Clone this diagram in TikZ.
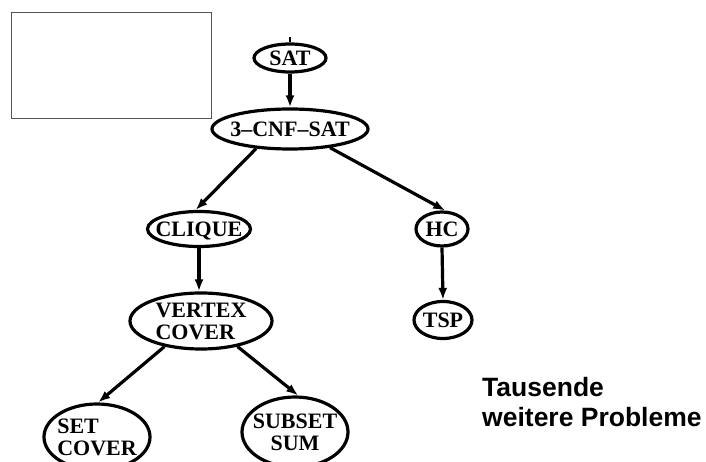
\documentclass[tikz,border=0pt]{standalone}
\usepackage{fontspec}
\setmainfont{Liberation Serif}
\newfontfamily\labelfont{Liberation Sans}
\usetikzlibrary{arrows.meta,shapes.geometric}
\definecolor{ink}{HTML}{000000}
\definecolor{frame}{HTML}{555555}
\newcommand{\probc}[1]{\makebox[0pt]{\raisebox{-8.3pt}[0pt][0pt]{\begin{tabular}{@{}c@{}}#1\end{tabular}}}}
\newcommand{\probl}[1]{\makebox[0pt]{\raisebox{-8.3pt}[0pt][0pt]{\begin{tabular}{@{}l@{}}#1\end{tabular}}}}

\begin{document}
\begin{tikzpicture}[x=1pt,y=-1pt,>=Latex,
  prob/.style={ellipse,draw=ink,line width=3.2pt,inner sep=0pt,
    font=\bfseries\fontsize{22}{22}\selectfont},
  reduc/.style={draw=ink,line width=3.2pt,-{Latex[length=12pt,width=9pt]}}]
\useasboundingbox (0,0) rectangle (706,462);
\draw[frame,line width=0.8pt] (11,12) rectangle (211,118);
% problem nodes
\node[prob,minimum width=72,minimum height=28] (sat) at (290,58) {\probc{SAT}};
\node[prob,minimum width=156,minimum height=40] (cnf) at (290,129) {\probc{3--CNF--SAT}};
\node[prob,minimum width=103,minimum height=35] (clique) at (199,229) {\probc{CLIQUE}};
\node[prob,minimum width=52,minimum height=34] (hc) at (442,229) {\probc{HC}};
\node[prob,minimum width=142,minimum height=56] (vc) at (201,321) {\probl{VERTEX\\COVER}};
\node[prob,minimum width=58,minimum height=37] (tsp) at (443,320) {\probc{TSP}};
\node[prob,minimum width=106,minimum height=66] (setc) at (97,437) {\probl{SET\\COVER}};
\node[prob,minimum width=106,minimum height=70] (subset) at (295,432) {\probc{SUBSET\\SUM}};
\node[anchor=north west,inner sep=0pt,align=left,
  font=\labelfont\bfseries\fontsize{26.5}{30}\selectfont] (more) at (482,377)
  {Tausende\\weitere Probleme};
% reductions
\coordinate (satin) at (290,37);
\draw[ink,line width=2pt] (satin) -- (sat.north);
\draw[reduc] (sat.south) -- (cnf.north);
\draw[reduc] (cnf.210) -- (clique.100);
\draw[reduc] (cnf.335) -- (hc.80);
\draw[reduc] (clique.south) -- (clique.south |- vc.north);
\draw[reduc] (hc.south) -- (tsp.north);
\draw[reduc] (vc.215) -- (setc.88);
\draw[reduc] (vc.325) -- (subset.85);
\end{tikzpicture}
\end{document}
